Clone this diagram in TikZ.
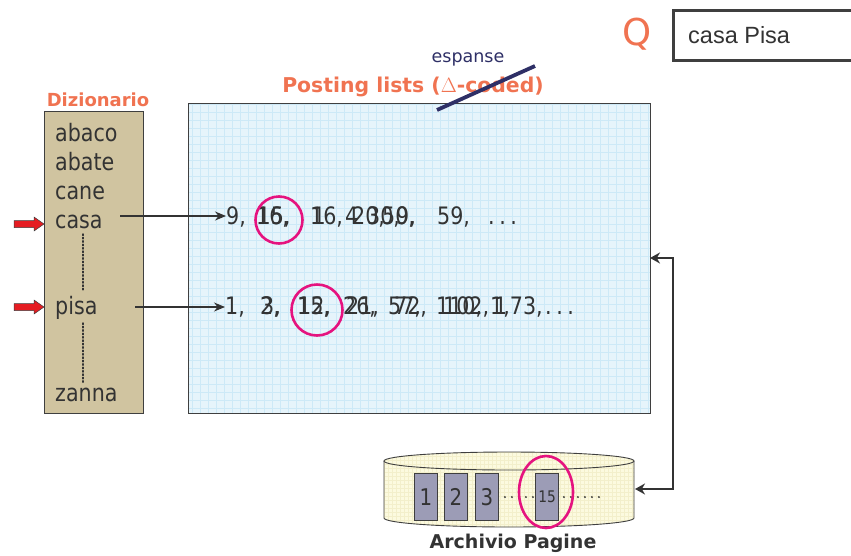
\documentclass[tikz,border=0pt]{standalone}
\usepackage{fontspec}
\setmainfont{DejaVu Sans}
\newfontfamily\arialfont{Liberation Sans}
\newfontfamily\tahomaish[FakeStretch=0.86]{DejaVu Sans}
\usetikzlibrary{arrows.meta,shapes.geometric}
\definecolor{titleorange}{HTML}{F07351}
\definecolor{navyline}{HTML}{2E2F66}
\definecolor{numgray}{HTML}{333333}
\definecolor{dictfill}{HTML}{D0C4A0}
\definecolor{postfill}{HTML}{E6F4FB}
\definecolor{gridblue}{HTML}{CDE9F7}
\definecolor{archfill}{HTML}{FCFADF}
\definecolor{gridyellow}{HTML}{F3EFCB}
\definecolor{pagefill}{HTML}{9C9CB6}
\definecolor{magentac}{HTML}{E5137F}
\definecolor{redarrow}{HTML}{E51C22}
\definecolor{framegray}{HTML}{3F3F3F}
\tikzset{
  num/.style={anchor=base west, inner sep=0pt, font=\tahomaish\fontsize{24}{28}\selectfont, text=numgray},
  word/.style={anchor=base west, inner sep=0pt, font=\tahomaish\fontsize{24}{28}\selectfont, text=numgray},
  title/.style={inner sep=0pt, font=\bfseries\fontsize{20.4}{24}\selectfont, text=titleorange},
  hit/.style={draw=magentac, line width=2.6pt},
  link/.style={draw=numgray, line width=1.1pt, -{Stealth[length=11pt,width=9pt]}},
  dots/.style={draw=numgray, line width=1.4pt, dotted, line cap=round},
  bigdots/.style={draw=numgray, line width=2.2pt, line cap=round, dash pattern=on 0pt off 7pt},
  redarr/.style={draw=framegray, fill=redarrow, line width=0.5pt, line join=miter}
}
\begin{document}
\begin{tikzpicture}[x=1pt,y=-1pt]
\useasboundingbox (0,0) rectangle (851,555);

% query
\node[inner sep=0pt, font=\fontsize{37}{40}\selectfont, text=titleorange] (qlab) at (637,34) {Q};
\node[draw=framegray, line width=2.6pt, minimum width=200pt, minimum height=50pt, anchor=north west, inner sep=0pt] (qbox) at (672,9) {};
\node[anchor=west, inner sep=0pt, font=\arialfont\fontsize{23.5}{26}\selectfont, text=numgray] (qtext) at (688,35) {casa Pisa};

% posting box
\begin{scope}
\fill[postfill] (188,103) rectangle (650,413);
\clip (188,103) rectangle (650,413);
\draw[gridblue, line width=0.4pt, step=8pt] (188,103) grid (652,415);
\end{scope}
\node[draw=framegray, line width=1.3pt, anchor=north west, minimum width=462pt, minimum height=310pt, inner sep=0pt] (pbox) at (188,103) {};

% titles
\node[inner sep=0pt, font=\fontsize{17.5}{20}\selectfont, text=navyline] (esp) at (468,59) {espanse};
\node[title] (ptitle) at (413,87) {Posting lists (\(\Delta\)-coded)};
\draw[navyline, line width=3.8pt] (437,110) -- (535,66);
\node[title, font=\bfseries\fontsize{18}{22}\selectfont] (dtitle) at (98,100) {Dizionario};

% dictionary
\node[draw=framegray, fill=dictfill, line width=1pt, anchor=north west, minimum width=99pt, minimum height=302pt, inner sep=0pt] (dbox) at (44,111) {};
\node[word] (w1) at (55,141) {abaco};
\node[word] (w2) at (55,170) {abate};
\node[word] (w3) at (55,199) {cane};
\node[word] (w4) at (55,228) {casa};
\node[word] (w5) at (55,314) {pisa};
\node[word] (w6) at (55,401) {zanna};
\draw[dots] (83,234) -- (83,291);
\draw[dots] (83,323) -- (83,383);

\draw[redarr] (14,220.5) -- (34,220.5) -- (34,217) -- (44,224) -- (34,231) -- (34,227.5) -- (14,227.5) -- cycle;
\draw[redarr] (14,303.5) -- (34,303.5) -- (34,300) -- (44,307) -- (34,314) -- (34,310.5) -- (14,310.5) -- cycle;

% posting line 1
\coordinate (c1s) at (120,216);
\coordinate (c2s) at (135,307);
\node[num] (a1) at (226,224) {9,};
\node[num] (a2) at (256,224) {16,};
\node[num] (a3) at (257.5,224) {15,};
\node[num] (a4) at (310,224) {16,};
\node[num] (a5) at (312.5,224) {1};
\node[num] (a6) at (345,224) {4};
\node[num] (a7) at (352,224) {20,};
\node[num] (a8) at (367,224) {30,};
\node[num] (a9) at (382,224) {50,};
\node[num] (a10) at (396,224) {9,};
\node[num] (a11) at (437,224) {59,};
\node[num] (a12) at (488,224) {.\hspace{4.5pt}.\hspace{4.5pt}.};
\draw[link] (c1s) -- (a1.west |- c1s);

% posting line 2
\node[num] (b1) at (225,314) {1,};
\node[num] (b2) at (261,314) {3,};
\node[num] (b3) at (260,314) {2,};
\node[num] (b4) at (297,314) {15,};
\node[num] (b5) at (298,314) {12,};
\node[num] (b6) at (346,314) {21,};
\node[num] (b7) at (343,314) {26,};
\node[num] (b8) at (388,314) {57,};
\node[num] (b9) at (394,314) {72,};
\node[num] (b10) at (436,314) {110,};
\node[num] (b11) at (443,314) {102,};
\node[num] (b12) at (490,314) {1,73,};
\node[num] (b13) at (494,314) {1};
\node[num] (b14) at (545,314) {.\hspace{4.5pt}.\hspace{4.5pt}.};
\draw[link] (c2s) -- (b1.west |- c2s);

% circles
\node[hit, circle, minimum size=47pt, inner sep=0pt] (h1) at (279,220) {};
\node[hit, circle, minimum size=51pt, inner sep=0pt] (h2) at (317,310) {};

% archive cylinder
\begin{scope}
\clip (384,461) -- (384,518) arc[start angle=180, end angle=360, x radius=125pt, y radius=9pt] -- (634,461) arc[start angle=0, end angle=180, x radius=125pt, y radius=9pt] -- cycle;
\fill[archfill] (380,440) rectangle (640,540);
\draw[gridyellow, line width=0.35pt, step=4pt] (380,440) grid (640,540);
\end{scope}
\draw[framegray, line width=0.9pt] (384,461) -- (384,518) arc[start angle=180, end angle=360, x radius=125pt, y radius=9pt] -- (634,461);
\draw[framegray, line width=0.9pt] (509,461) ellipse[x radius=125pt, y radius=9pt];
\coordinate (archR) at (635,489);

\tikzset{page/.style={draw=framegray, fill=pagefill, line width=0.8pt, minimum width=23pt, minimum height=47pt, inner sep=0pt, text=numgray, font=\tahomaish\fontsize{23}{26}\selectfont}}
\node[page] (p1) at (426,497) {1};
\node[page] (p2) at (456,497) {2};
\node[page] (p3) at (487,497) {3};
\node[page, font=\tahomaish\fontsize{16}{18}\selectfont] (p15) at (547,497) {15};
\draw[bigdots] ([xshift=6pt]p3.east) -- ([xshift=-2pt]p15.west);
\draw[bigdots] ([xshift=5pt]p15.east) -- ++(36pt,0);
\node[hit, ellipse, minimum width=54pt, minimum height=72pt, inner sep=0pt] (h3) at (546,492) {};
\node[inner sep=0pt, font=\bfseries\fontsize{19}{22}\selectfont, text=numgray] (alab) at (513,543) {Archivio Pagine};

% bidirectional connector
\coordinate (pR) at (650,258);
\draw[numgray, line width=2.6pt, {Stealth[length=10pt,width=11pt]}-{Stealth[length=10pt,width=11pt]}] (pR) -- (673,258) -- (673,489) -- (archR);
\end{tikzpicture}
\end{document}
